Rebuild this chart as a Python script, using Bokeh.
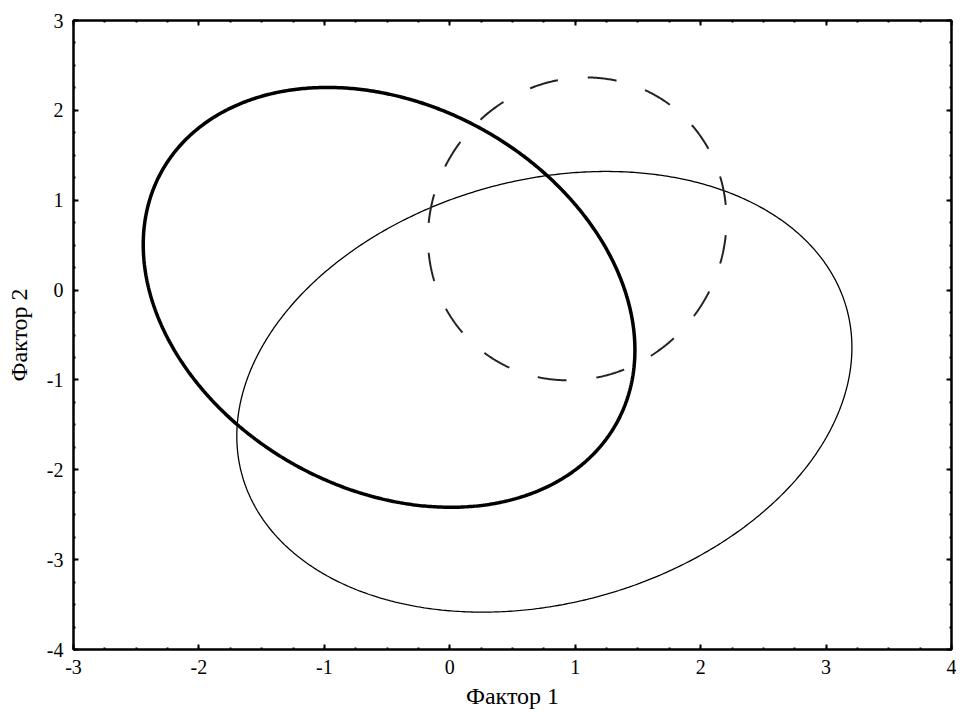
import numpy as np
from bokeh.plotting import figure
from bokeh.models import LinearAxis, SingleIntervalTicker
from bokeh.embed import file_html
from bokeh.resources import INLINE

# ---- data ----
x_ticks = [-3, -2, -1, 0, 1, 2, 3, 4]
y_ticks = [-4, -3, -2, -1, 0, 1, 2, 3]
x_label = "Фактор 1"
y_label = "Фактор 2"

ellipse_names = ["group_a", "group_b", "group_c"]
center_x = [-0.484, 0.754, 1.016]
center_y = [-0.081, -1.132, 0.681]
half_x = [1.96, 2.452, 1.19]      # half extent along x
half_y = [2.336, 2.452, 1.685]    # half extent along y
corr = [-0.251, 0.201, 0.06]      # correlation (tilt)

# ---- styles ----
line_widths = [3.5, 1.3, 2.0]
line_dashes = ["solid", "solid", "29 30"]
line_colors = ["#000000", "#000000", "#222222"]

FONT = "Liberation Serif"

p = figure(frame_width=878, frame_height=629, x_range=(-3, 4), y_range=(-4, 3),
           output_backend="svg", toolbar_location=None,
           min_border_left=73, min_border_right=5, min_border_top=20, min_border_bottom=66,
           background_fill_color="white", border_fill_color="white")
p.xgrid.visible = False
p.ygrid.visible = False
p.outline_line_color = "black"
p.outline_line_width = 2


def style_axis(ax, ticks, standoff):
    ax.ticker = SingleIntervalTicker(interval=1, num_minor_ticks=4)
    ax.major_label_overrides = {t: str(t) for t in ticks}
    ax.axis_line_width = 2
    ax.axis_line_color = "black"
    ax.major_tick_in = 5
    ax.major_tick_out = 0
    ax.minor_tick_in = 2
    ax.minor_tick_out = 0
    ax.major_tick_line_width = 2
    ax.minor_tick_line_width = 2
    ax.major_label_text_font = FONT
    ax.major_label_text_font_size = "20px"
    ax.major_label_text_color = "black"
    ax.major_label_standoff = standoff
    ax.axis_label_text_font = FONT
    ax.axis_label_text_font_size = "24px"
    ax.axis_label_text_font_style = "normal"
    ax.axis_label_text_color = "black"


style_axis(p.xaxis[0], x_ticks, 10)
style_axis(p.yaxis[0], y_ticks, 10)
p.xaxis[0].axis_label = x_label
p.yaxis[0].axis_label = y_label
p.xaxis[0].axis_label_standoff = 6
p.yaxis[0].axis_label_standoff = 12

top = LinearAxis()
right = LinearAxis()
for ax, ticks in ((top, x_ticks), (right, y_ticks)):
    style_axis(ax, ticks, 0)
    ax.major_label_text_font_size = "1px"
    ax.major_label_overrides = {t: "" for t in ticks}
p.add_layout(top, "above")
p.add_layout(right, "right")

t = np.linspace(0, 2 * np.pi, 721)
for i in range(len(ellipse_names)):
    sx, sy, r = half_x[i], half_y[i], corr[i]
    cov = np.array([[sx * sx, r * sx * sy], [r * sx * sy, sy * sy]])
    L = np.linalg.cholesky(cov)
    xs = center_x[i] + L[0, 0] * np.cos(t)
    ys = center_y[i] + L[1, 0] * np.cos(t) + L[1, 1] * np.sin(t)
    kw = {}
    if line_dashes[i] != "solid":
        kw["line_dash_offset"] = 44
    p.line(xs, ys, line_width=line_widths[i], line_color=line_colors[i],
           line_dash=line_dashes[i], **kw)

open("out.html", "w").write(file_html(p, INLINE))
